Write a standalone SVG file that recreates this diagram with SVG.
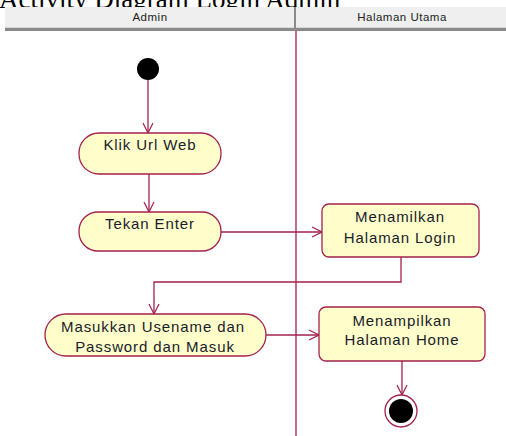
<svg xmlns="http://www.w3.org/2000/svg" width="506" height="436" viewBox="0 0 506 436">
  <defs>
    <style>
      .title { font-family: "Liberation Serif", "Times New Roman", serif; font-size: 27px; fill: #000; }
      .lane-label { font-family: "Liberation Sans", Arial, sans-serif; font-size: 11.5px; letter-spacing: 0.5px; fill: #222; text-anchor: middle; }
      .label { font-family: "Liberation Sans", Arial, sans-serif; font-size: 15px; letter-spacing: 0.9px; fill: #1a1a2a; text-anchor: middle; }
      .state { fill: #FFFFCC; stroke: #A3204D; stroke-width: 1.3; }
      .flow { fill: none; stroke: #A3204D; stroke-width: 1.3; }
    </style>
    <marker id="open-arrow" viewBox="0 0 12 12" refX="11" refY="6" markerWidth="12" markerHeight="12" markerUnits="userSpaceOnUse" orient="auto">
      <path d="M1,1 L11,6 L1,11" fill="none" stroke="#A3204D" stroke-width="1.2"/>
    </marker>
  </defs>

  <rect width="506" height="436" fill="#FFFFFF"/>

  <!-- title, partly hidden behind the swimlane header -->
  <text class="title" x="-1" y="7.5">Activity Diagram Login Admin</text>

  <!-- swimlane header -->
  <g id="swimlanes">
    <rect x="5" y="7" width="501" height="21" fill="#EFEFEF"/>
    <rect x="5" y="27" width="501" height="1" fill="#D8D8D8"/>
    <rect x="5" y="28" width="501" height="3" fill="#8A8A8A"/>
    <rect x="294" y="7" width="2" height="22" fill="#8A8A8A"/>
    <text class="lane-label" x="150" y="21">Admin</text>
    <text class="lane-label" x="402" y="21">Halaman Utama</text>
    <line x1="296" y1="31" x2="296" y2="436" stroke="#A3204D" stroke-width="1.3"/>
  </g>

  <!-- control flows -->
  <g id="connectors">
    <line class="flow" x1="148" y1="80" x2="148" y2="133" marker-end="url(#open-arrow)"/>
    <line class="flow" x1="149" y1="174" x2="149" y2="212" marker-end="url(#open-arrow)"/>
    <line class="flow" x1="221" y1="232" x2="322" y2="232" marker-end="url(#open-arrow)"/>
    <polyline class="flow" points="401,257 401,282 154,282 154,314" marker-end="url(#open-arrow)"/>
    <line class="flow" x1="266" y1="335" x2="319" y2="335" marker-end="url(#open-arrow)"/>
    <line class="flow" x1="402" y1="361" x2="402" y2="395" marker-end="url(#open-arrow)"/>
  </g>

  <g id="start">
    <circle cx="148" cy="69" r="11" fill="#000"/>
  </g>

  <g id="klik-url-web">
    <rect class="state" x="79" y="133" width="142" height="41" rx="20" ry="20"/>
    <text class="label" x="150" y="150">Klik Url Web</text>
  </g>

  <g id="tekan-enter">
    <rect class="state" x="79" y="212" width="142" height="39" rx="19" ry="19"/>
    <text class="label" x="150" y="229">Tekan Enter</text>
  </g>

  <g id="halaman-login">
    <rect class="state" x="322" y="204" width="157" height="53" rx="7" ry="7"/>
    <text class="label" x="400" y="222">Menamilkan</text>
    <text class="label" x="400" y="243">Halaman Login</text>
  </g>

  <g id="masukkan-username">
    <rect class="state" x="45" y="314" width="221" height="42" rx="21" ry="21"/>
    <text class="label" x="153" y="332">Masukkan Usename dan</text>
    <text class="label" x="155" y="352">Password dan Masuk</text>
  </g>

  <g id="halaman-home">
    <rect class="state" x="319" y="307" width="166" height="54" rx="7" ry="7"/>
    <text class="label" x="402" y="326">Menampilkan</text>
    <text class="label" x="402" y="345">Halaman Home</text>
  </g>

  <g id="end">
    <circle cx="401" cy="411" r="16" fill="#FFFFFF" stroke="#A3204D" stroke-width="1.3"/>
    <circle cx="401" cy="411" r="12" fill="#000"/>
  </g>
</svg>
